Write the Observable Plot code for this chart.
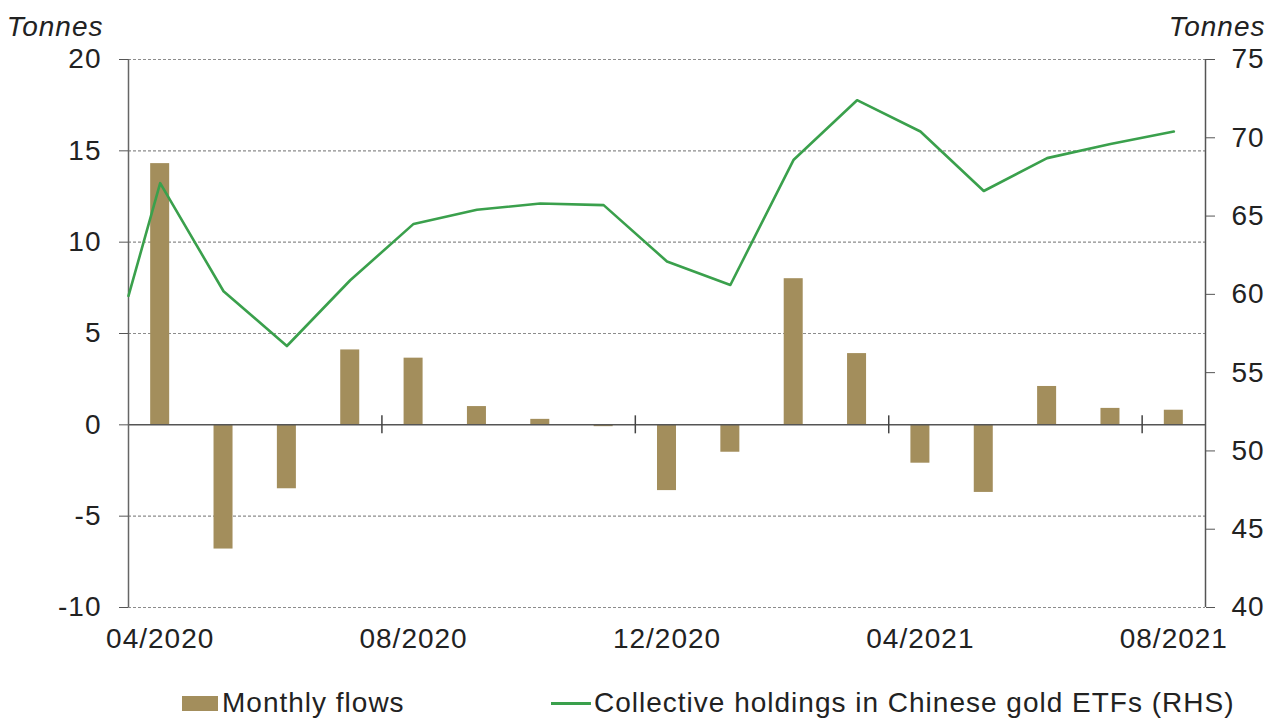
<!DOCTYPE html>
<html>
<head>
<meta charset="utf-8">
<script src="https://cdn.jsdelivr.net/npm/d3@7"></script>
<script src="https://cdn.jsdelivr.net/npm/@observablehq/plot@0.6"></script>
<style>
  html, body { margin: 0; padding: 0; background: #fff; }
  body { font-family: "Liberation Sans", Arial, sans-serif; width: 1283px; height: 720px; overflow: hidden; }
  #legend { position: relative; height: 60px; font-size: 28px; letter-spacing: 1px; color: #222; }
  #legend .item { position: absolute; top: 0; height: 60px; display: flex; align-items: center; }
  #legend .sw { display: inline-block; }
  #chart svg text { letter-spacing: 1px; }
</style>
</head>
<body>
<div id="chart"></div>
<div id="legend">
  <div class="item" style="left:182px; top:13px;"><span class="sw" style="width:36px;height:15px;background:#a38e5c;margin-right:4px;"></span><span>Monthly flows</span></div>
  <div class="item" style="left:551px; top:13px;"><span class="sw" style="width:40px;height:3px;background:#3aa04c;margin-right:3px;"></span><span>Collective holdings in Chinese gold ETFs (RHS)</span></div>
</div>
<script>
// ---- Data ----
const months = ["04/2020","05/2020","06/2020","07/2020","08/2020","09/2020","10/2020","11/2020","12/2020",
                "01/2021","02/2021","03/2021","04/2021","05/2021","06/2021","07/2021","08/2021"];
const flows = [14.3, -6.8, -3.5, 4.1, 3.65, 1.0, 0.3, -0.1, -3.6, -1.5, 8.0, 3.9, -2.1, -3.7, 2.1, 0.9, 0.8];
const startHolding = 59.9; // level at start of the period (left edge)
const holdings = [67.1, 60.2, 56.7, 60.9, 64.5, 65.4, 65.8, 65.7, 62.1, 60.6, 68.6, 72.4, 70.4, 66.6, 68.7, 69.6, 70.4];
const leftTicks = [-10, -5, 0, 5, 10, 15, 20];
const rightTicks = [40, 45, 50, 55, 60, 65, 70, 75];
const xTickLabels = ["04/2020", "08/2020", "12/2020", "04/2021", "08/2021"];
const unitLabel = "Tonnes";

// ---- Styling ----
const barColor = "#a38e5c";
const lineColor = "#3aa04c";

// scale mapping for right axis (RHS 40..75 onto LHS -10..20)
const L0 = leftTicks[0], L1 = leftTicks[leftTicks.length - 1];
const R0 = rightTicks[0], R1 = rightTicks[rightTicks.length - 1];
const toLeft = r => (r - R0) * (L1 - L0) / (R1 - R0) + L0;
const toRight = l => Math.round((l - L0) * (R1 - R0) / (L1 - L0) + R0);

const xDomain = [-0.5, months.length - 0.5];
const flowData = months.map((m, i) => ({i, v: flows[i]}));
const lineData = [{x: xDomain[0], y: toLeft(startHolding)}]
  .concat(holdings.map((h, i) => ({x: i, y: toLeft(h)})));
const xTickIdx = xTickLabels.map(m => months.indexOf(m));
const boundaries = xTickIdx.filter(i => i > 0).map(i => i - 0.5);
const barHalf = 0.15;

const chart = Plot.plot({
  width: 1283,
  height: 660,
  marginLeft: 128,
  marginRight: 78,
  marginTop: 59,
  marginBottom: 53,
  style: {fontFamily: "'Liberation Sans', Arial, sans-serif", fontSize: "28px", color: "#222", background: "white", overflow: "visible"},
  x: {domain: xDomain},
  y: {domain: [L0, L1]},
  marks: [
    Plot.ruleY(leftTicks.filter(d => d !== 0), {stroke: "#8c8c8c", strokeWidth: 1.2, strokeDasharray: "3,2"}),
    Plot.rectY(flowData, {x1: d => d.i - barHalf, x2: d => d.i + barHalf, y1: 0, y2: "v", fill: barColor}),
    Plot.ruleY([0], {stroke: "#555", strokeWidth: 1.5}),
    Plot.ruleX(boundaries, {y1: 0, y2: 0, insetTop: -9, insetBottom: -9, stroke: "#444", strokeWidth: 1.5}),
    Plot.ruleX([xDomain[0]], {stroke: "#666", strokeWidth: 1.5}),
    Plot.ruleX([xDomain[1]], {stroke: "#555", strokeWidth: 1.5}),
    Plot.line(lineData, {x: "x", y: "y", stroke: lineColor, strokeWidth: 2.6}),
    Plot.axisY(leftTicks, {anchor: "left", tickSize: 9, tickPadding: 18, label: null, stroke: "#555", tickFormat: d => String(d)}),
    Plot.axisY(rightTicks.map(toLeft), {anchor: "right", tickSize: 9, tickPadding: 17, label: null, stroke: "#555", tickFormat: d => String(toRight(d))}),
    Plot.axisX(xTickIdx, {anchor: "bottom", tickSize: 0, tickPadding: 21, label: null, tickFormat: i => months[i]}),
    Plot.text([unitLabel], {frameAnchor: "top-left", dx: -25, dy: -32, lineAnchor: "middle", textAnchor: "end", fontStyle: "italic", fill: "#222"}),
    Plot.text([unitLabel], {frameAnchor: "top-right", dx: 60, dy: -32, lineAnchor: "middle", textAnchor: "end", fontStyle: "italic", fill: "#222"})
  ]
});
document.getElementById("chart").appendChild(chart);
</script>
</body>
</html>
